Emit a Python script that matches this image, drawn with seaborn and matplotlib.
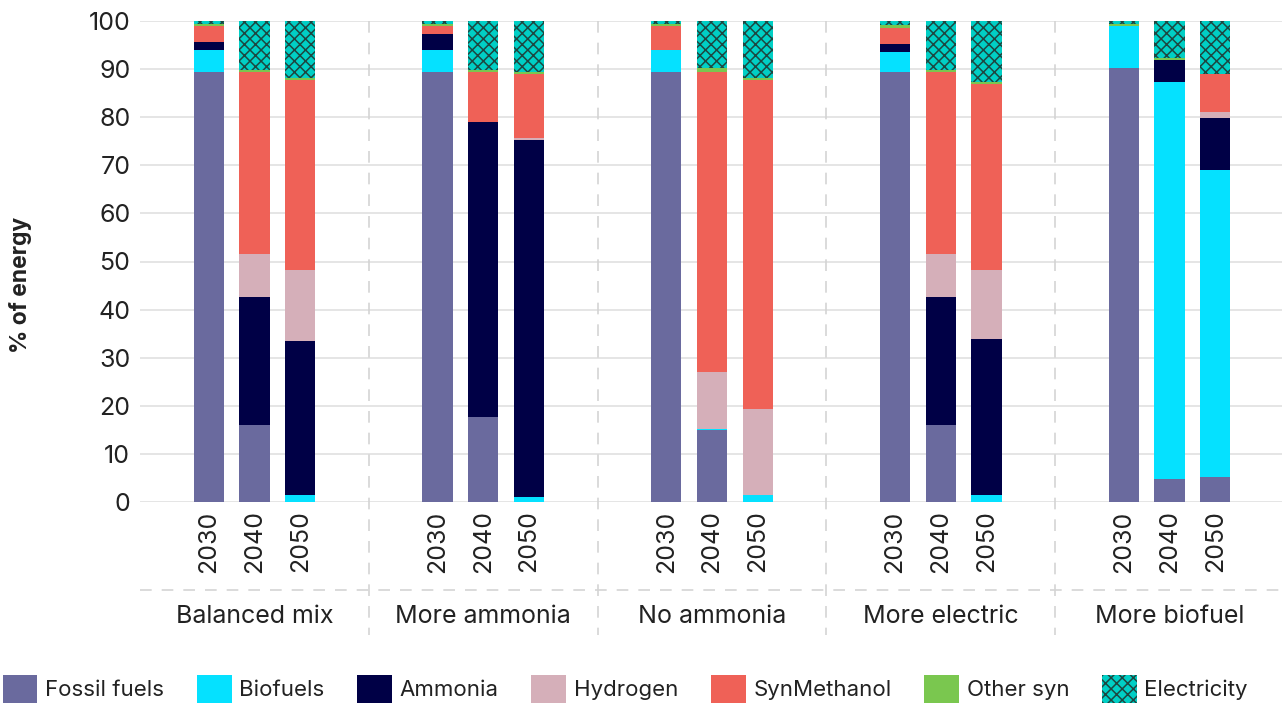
import numpy as np
import pandas as pd
import matplotlib
matplotlib.use("Agg")
import matplotlib.pyplot as plt
from matplotlib.patches import Patch
import seaborn as sns

# ---------------- data ----------------
scenarios = ["Balanced mix", "More ammonia", "No ammonia", "More electric", "More biofuel"]
years = ["2030", "2040", "2050"]
fuels = ["Fossil fuels", "Biofuels", "Ammonia", "Hydrogen", "SynMethanol", "Other syn", "Electricity"]

# values per scenario (outer) and year (inner), % of energy
fossil_fuels = [89.4, 16.0, 0.0,   89.4, 17.7, 0.0,   89.4, 15.0, 0.0,   89.4, 16.0, 0.0,   90.2, 4.8, 5.2]
biofuels     = [4.6, 0.0, 1.5,     4.6, 0.0, 1.0,     4.6, 0.2, 1.5,     4.2, 0.0, 1.5,     8.8, 82.5, 63.8]
ammonia      = [1.6, 26.6, 32.0,   3.3, 61.3, 74.3,   0.0, 0.0, 0.0,     1.6, 26.6, 32.4,   0.0, 4.6, 10.8]
hydrogen     = [0.0, 9.0, 14.7,    0.0, 0.0, 0.4,     0.0, 11.8, 17.8,   0.0, 9.0, 14.3,    0.0, 0.0, 1.3]
synmethanol  = [3.4, 37.9, 39.6,   1.7, 10.4, 13.3,   5.0, 62.4, 68.5,   3.3, 37.8, 38.8,   0.0, 0.0, 7.9]
other_syn    = [0.4, 0.4, 0.3,     0.4, 0.4, 0.5,     0.4, 0.8, 0.3,     0.7, 0.5, 0.4,     0.4, 0.4, 0.0]
electricity  = [0.6, 10.1, 11.9,   0.6, 10.2, 10.5,   0.6, 9.8, 11.9,    0.8, 10.1, 12.6,   0.6, 7.7, 11.0]

yticks = [0, 10, 20, 30, 40, 50, 60, 70, 80, 90, 100]

series = [fossil_fuels, biofuels, ammonia, hydrogen, synmethanol, other_syn, electricity]
colors = ["#6A6A9E", "#05E1FF", "#000046", "#D5AFB9", "#EF6157", "#7AC74F", "#00CFC5"]
hatch_color = "#1d4741"

# ---------------- long table ----------------
rows = []
for si, s in enumerate(scenarios):
    for yi, yr in enumerate(years):
        pos = 5 * si + 1 + yi
        for fi, f in enumerate(fuels):
            rows.append(dict(scenario=s, year=yr, pos=pos, fuel=f,
                             value=series[fi][si * 3 + yi]))
df = pd.DataFrame(rows)
df["bottom"] = df.groupby("pos")["value"].cumsum() - df["value"]

# ---------------- style ----------------
sns.set_style("white")
plt.rcParams["font.family"] = ["Inter", "DejaVu Sans"]
plt.rcParams["hatch.linewidth"] = 1.1
text_color = "#222222"

fig = plt.figure(figsize=(12.82, 7.06), dpi=100)
ax = fig.add_axes([140 / 1282, 1 - 502 / 706, 1144 / 1282, 481 / 706])

for fi, f in enumerate(fuels):
    sub = df[df["fuel"] == f].sort_values("pos")
    kw = dict(linewidth=0)
    if f == "Electricity":
        kw.update(hatch="xxx", edgecolor=hatch_color)
    sns.barplot(data=sub, x="pos", y="value", native_scale=True, width=0.66,
                color=colors[fi], saturation=1, errorbar=None,
                bottom=sub["bottom"].values, ax=ax, zorder=3, **kw)

ax.set_xlim(-0.5, 24.5)
ax.set_ylim(0, 100)
ax.set_yticks(yticks)
ax.set_yticklabels([str(t) for t in yticks], fontsize=18, color=text_color)
ax.yaxis.grid(True, color="#e3e3e3", linewidth=1.3, zorder=0)
ax.set_axisbelow(True)
for sp in ax.spines.values():
    sp.set_visible(False)
ax.tick_params(axis="both", length=0)
ax.tick_params(axis="y", pad=7)

positions = [5 * si + 1 + yi for si in range(len(scenarios)) for yi in range(len(years))]
ax.set_xticks(positions)
ax.set_xticklabels(years * len(scenarios), rotation=90, fontsize=18, color=text_color)
ax.tick_params(axis="x", pad=6)
ax.set_xlabel("")
ax.set_ylabel("% of energy", fontsize=16.5, fontweight="bold", color=text_color)
ax.yaxis.set_label_coords(-0.094, 0.451)

# separators
trans = ax.get_xaxis_transform()
for si in range(1, len(scenarios)):
    xs = 5 * si - 0.5
    ax.plot([xs, xs], [1.0, -0.2765], transform=trans, clip_on=False,
            color="#d4d4d4", linewidth=1.2, dashes=(7, 6), zorder=1)
ax.plot([-0.5, 24.5], [-0.183, -0.183], transform=trans, clip_on=False,
        color="#d4d4d4", linewidth=1.2, dashes=(7, 6), zorder=1)
for si, s in enumerate(scenarios):
    ax.text(5 * si + 2, -0.2375, s, transform=trans, ha="center", va="center",
            fontsize=18, color=text_color)

# legend
handles = []
for fi, f in enumerate(fuels):
    if f == "Electricity":
        handles.append(Patch(facecolor=colors[fi], edgecolor=hatch_color, hatch="xxx",
                             linewidth=0, label=f))
    else:
        handles.append(Patch(facecolor=colors[fi], linewidth=0, label=f))
leg = fig.legend(handles=handles, loc="center left", bbox_to_anchor=(0.002, 0.024),
                 ncol=7, frameon=False, fontsize=16, handlelength=1.57,
                 handleheight=1.57, handletextpad=0.35, columnspacing=1.46,
                 borderpad=0, borderaxespad=0)
for t in leg.get_texts():
    t.set_color(text_color)

fig.savefig("out.png", dpi=100)
